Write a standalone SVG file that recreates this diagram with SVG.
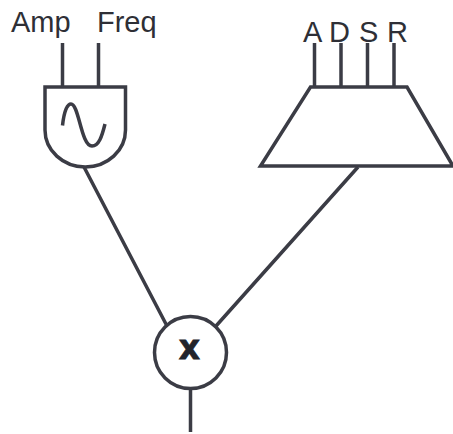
<svg xmlns="http://www.w3.org/2000/svg" width="453" height="434" viewBox="0 0 453 434">
<style>
.s{fill:none;stroke:#3b3c45;stroke-width:3.500}
.w{fill:#fff;stroke:#3b3c45;stroke-width:3.500}
text{font-family:"Liberation Sans",Arial,sans-serif;font-size:29px;fill:#2e2f36}
</style>
<rect width="453" height="434" fill="#fff"/>
<g id="connectors">
<path class="s" d="M62.500 43V87M98.500 43V87M314.500 43V87M341 43V87M367.500 43V87M394 43V87"/>
<path class="s" d="M84 167L167 326M358 167L216 326M190.500 388V432"/>
</g>
<g id="osc">
<path class="w" d="M45 87H125.500V130A40.250 37 0 0 1 45 130Z"/>
<path class="s" d="M62.500 125.500C64 112 67 104 71 104C79 104 81 146 92 146C99 146 102 136 105 124"/>
<text x="11" y="32">Amp</text>
<text x="97" y="32">Freq</text>
</g>
<g id="adsr">
<path class="w" d="M310.500 87H407L453 166H260.500Z"/>
<text x="303" y="42">A</text>
<text x="329" y="42">D</text>
<text x="359" y="42">S</text>
<text x="387" y="42">R</text>
</g>
<g id="mult">
<circle class="w" cx="190.500" cy="352.500" r="36"/>
<text x="189.500" y="358.500" text-anchor="middle" style="font-weight:bold;font-family:'DejaVu Sans',sans-serif;font-size:33px;fill:#22232a;stroke:#22232a;stroke-width:0.800">x</text>
</g>
</svg>
